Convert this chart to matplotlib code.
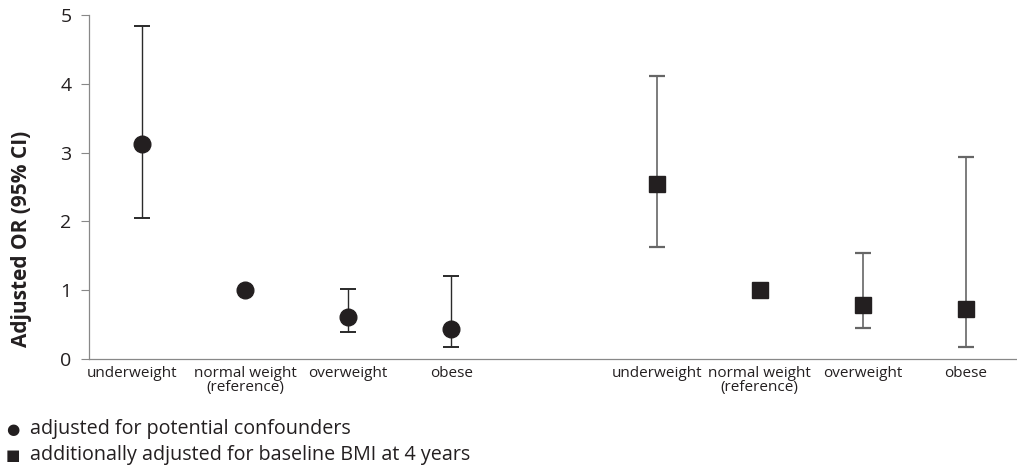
import matplotlib
matplotlib.use("Agg")
import matplotlib.pyplot as plt
from matplotlib.transforms import ScaledTranslation

plt.rcParams['font.family'] = ['Open Sans', 'DejaVu Sans']

categories = ["underweight", "normal weight\n(reference)", "overweight", "obese"]
# adjusted for potential confounders (circles)
or1 = [3.12, 1.0, 0.61, 0.44]
lo1 = [2.05, 1.0, 0.39, 0.17]
hi1 = [4.84, 1.0, 1.02, 1.21]
# additionally adjusted for baseline BMI (squares)
or2 = [2.54, 1.0, 0.78, 0.73]
lo2 = [1.63, 1.0, 0.45, 0.17]
hi2 = [4.11, 1.0, 1.54, 2.94]
yticks = [0, 1, 2, 3, 4, 5]
legend_labels = ["adjusted for potential confounders",
                 "additionally adjusted for baseline BMI at 4 years"]

fig = plt.figure(figsize=(10.17, 4.69), dpi=100)
ax = fig.add_axes([0.0875, 0.2345, 0.9125, 0.7335])

x1 = [0, 1, 2, 3]
x2 = [5, 6, 7, 8]
mk = '#231f20'

def draw(xs, vals, los, his, marker, ms, ecol, lw):
    for x, v, l, h in zip(xs, vals, los, his):
        if h > l:
            ax.errorbar([x], [v], yerr=[[v - l], [h - v]], fmt='none',
                        ecolor=ecol, elinewidth=lw, capsize=5.8, capthick=lw + 0.4,
                        zorder=2)
        ax.plot([x], [v], marker=marker, color=mk, markersize=ms,
                linestyle='none', zorder=3)

draw(x1, or1, lo1, hi1, 'o', 12, '#2a2a2a', 1.0)
draw(x2, or2, lo2, hi2, 's', 11.5, '#666666', 1.2)

ax.set_xlim(-0.52, 8.5)
ax.set_ylim(0, 5)
ax.set_yticks(yticks)
ax.set_yticklabels([str(t) for t in yticks], fontsize=14, color='#231f20')
ax.set_xticks(x1 + x2)
ax.set_xticklabels(categories + categories, fontsize=11, linespacing=0.9,
                   color='#231f20')
ax.tick_params(axis='x', length=0, pad=5)
ax.tick_params(axis='y', length=5.5, width=0.8, color='#888888', pad=7, direction='out')
# first label is nudged left in the original
lab0 = ax.get_xticklabels()[0]
lab0.set_transform(lab0.get_transform() + ScaledTranslation(-0.10, 0, fig.dpi_scale_trans))
for s in ['top', 'right']:
    ax.spines[s].set_visible(False)
for s in ['left', 'bottom']:
    ax.spines[s].set_color('#888888')
    ax.spines[s].set_linewidth(0.9)

fig.text(22 / 1017, 1 - 239 / 469, "Adjusted OR (95% CI)", fontsize=15,
         fontweight='bold', rotation=90, ha='center', va='center', color='#231f20')

fig.text(6 / 1017, 1 - 429 / 469, "●", fontsize=11, va='center', ha='left',
         family=['DejaVu Sans'], color=mk)
fig.text(30 / 1017, 1 - 429 / 469, legend_labels[0], fontsize=14.2, va='center',
         ha='left', color='#231f20')
fig.text(6 / 1017, 1 - 455 / 469, "■", fontsize=11, va='center', ha='left',
         family=['DejaVu Sans'], color=mk)
fig.text(30 / 1017, 1 - 455 / 469, legend_labels[1], fontsize=14.2, va='center',
         ha='left', color='#231f20')

fig.savefig("out.png", dpi=100)
